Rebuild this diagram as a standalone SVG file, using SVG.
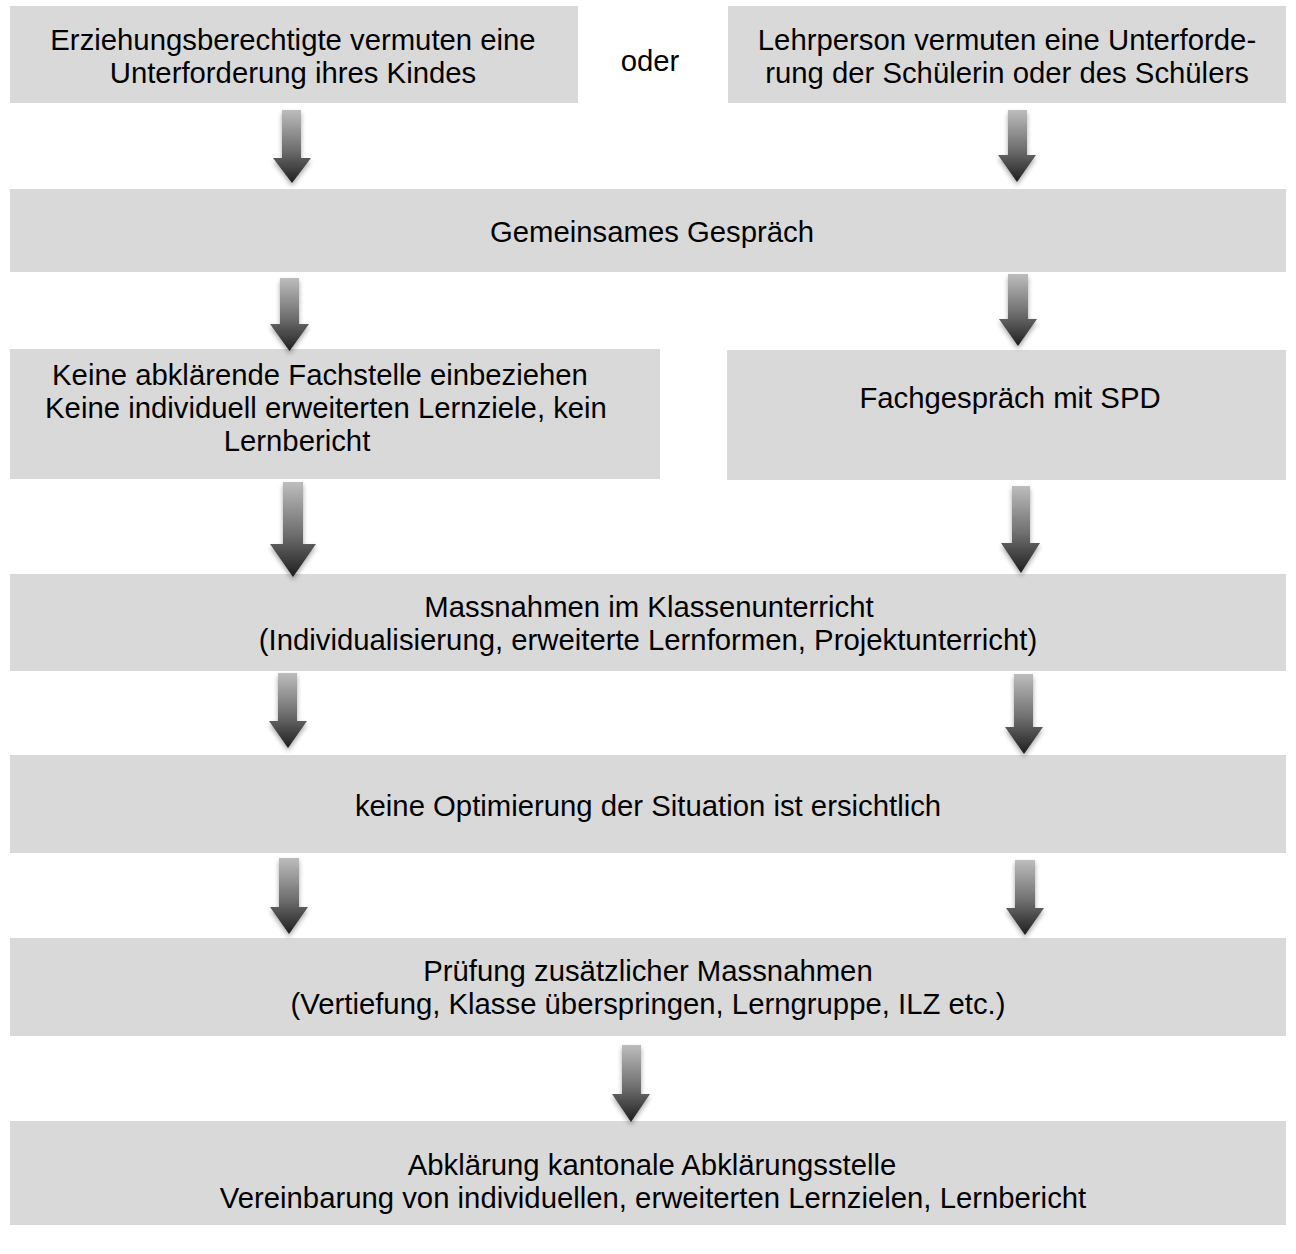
<svg xmlns="http://www.w3.org/2000/svg" width="1296" height="1254" viewBox="0 0 1296 1254">
<style>
.box{fill:#d9d9d9}
.t{font-family:"Liberation Sans",Arial,sans-serif;font-size:29.3px;fill:#000;text-anchor:middle}
.arr{fill:url(#g);filter:url(#sh)}
</style>
<defs>
<linearGradient id="g" x1="0" y1="0" x2="0" y2="1">
<stop offset="0" stop-color="#bdbdbd"/>
<stop offset="0.55" stop-color="#6e6e6e"/>
<stop offset="1" stop-color="#1e1e1e"/>
</linearGradient>
<filter id="sh" x="-50%" y="-20%" width="200%" height="150%">
<feGaussianBlur in="SourceAlpha" stdDeviation="2.5"/>
<feOffset dx="0" dy="3" result="b"/>
<feComponentTransfer><feFuncA type="linear" slope="0.35"/></feComponentTransfer>
<feMerge><feMergeNode/><feMergeNode in="SourceGraphic"/></feMerge>
</filter>
</defs>
<g id="n1"><rect class="box" x="10" y="6" width="568" height="97"/><text class="t" x="293" y="50">Erziehungsberechtigte vermuten eine</text><text class="t" x="293" y="83">Unterforderung ihres Kindes</text></g>
<g id="oder"><text class="t" x="650" y="71">oder</text></g>
<g id="n2"><rect class="box" x="728" y="6" width="558" height="97"/><text class="t" x="1007" y="50">Lehrperson vermuten eine Unterforde-</text><text class="t" x="1007" y="83">rung der Schülerin oder des Schülers</text></g>
<g id="n3"><rect class="box" x="10" y="189" width="1276" height="83"/><text class="t" x="652" y="242">Gemeinsames Gespräch</text></g>
<g id="n4"><rect class="box" x="10" y="349" width="650" height="130"/><text class="t" x="320" y="385">Keine abklärende Fachstelle einbeziehen</text><text class="t" x="326" y="418">Keine individuell erweiterten Lernziele, kein</text><text class="t" x="297" y="451">Lernbericht</text></g>
<g id="n5"><rect class="box" x="727" y="350" width="559" height="130"/><text class="t" x="1010" y="408">Fachgespräch mit SPD</text></g>
<g id="n6"><rect class="box" x="10" y="574" width="1276" height="97"/><text class="t" x="649" y="617">Massnahmen im Klassenunterricht</text><text class="t" x="648" y="650">(Individualisierung, erweiterte Lernformen, Projektunterricht)</text></g>
<g id="n7"><rect class="box" x="10" y="755" width="1276" height="98"/><text class="t" x="648" y="816">keine Optimierung der Situation ist ersichtlich</text></g>
<g id="n8"><rect class="box" x="10" y="938" width="1276" height="98"/><text class="t" x="648" y="981">Prüfung zusätzlicher Massnahmen</text><text class="t" x="648" y="1014">(Vertiefung, Klasse überspringen, Lerngruppe, ILZ etc.)</text></g>
<g id="n9"><rect class="box" x="10" y="1121" width="1276" height="104"/><text class="t" x="652" y="1175">Abklärung kantonale Abklärungsstelle</text><text class="t" x="653" y="1208">Vereinbarung von individuellen, erweiterten Lernzielen, Lernbericht</text></g>
<g id="connectors">
<path class="arr" d="M282 110H301V158H311L292 183L273 158H282Z"/>
<path class="arr" d="M1008 110H1027V155H1036L1017 182L998 155H1008Z"/>
<path class="arr" d="M280 278H299V324H309L289.5 351L270 324H280Z"/>
<path class="arr" d="M1008 274H1028V319H1037L1018 346L999 319H1008Z"/>
<path class="arr" d="M283 482H303V544H316L293 577L270 544H283Z"/>
<path class="arr" d="M1012 486H1030V543H1040L1021 573L1001 543H1012Z"/>
<path class="arr" d="M278 673H297V721H307L288 748L269 721H278Z"/>
<path class="arr" d="M1014 674H1033V727H1043L1024 754L1005 727H1014Z"/>
<path class="arr" d="M279 858H299V907H308L289 934L270 907H279Z"/>
<path class="arr" d="M1015 860H1035V908H1044L1025 935L1006 908H1015Z"/>
<path class="arr" d="M622 1045H641V1094H650L631 1122L612 1094H622Z"/>
</g>
</svg>
